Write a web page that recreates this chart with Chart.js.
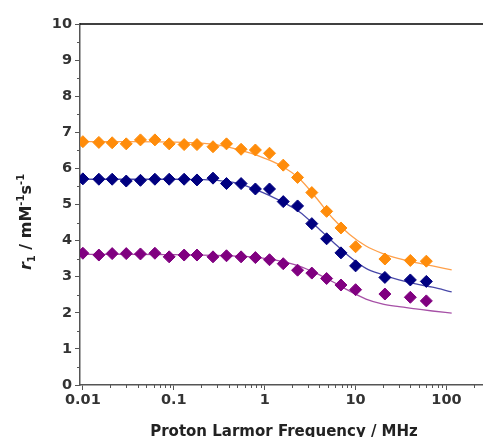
<!DOCTYPE html>
<html>
<head>
<meta charset="utf-8">
<script src="https://cdn.jsdelivr.net/npm/chart.js@4.4.0/dist/chart.umd.min.js"></script>
<style>
  html, body { margin: 0; padding: 0; background: #fff; overflow: hidden; }
  #wrap { width: 483px; height: 437px; }
  canvas { display: block; }
</style>
</head>
<body>
<div id="wrap"><canvas id="relaxivity-chart"></canvas></div>
<script>
// NMRD profiles - measured points (MHz), same field steps for all three samples
const freqs = [0.01, 0.015, 0.021, 0.03, 0.043, 0.062, 0.089, 0.13, 0.18, 0.27, 0.38, 0.55,
  0.79, 1.13, 1.6, 2.3, 3.3, 4.8, 6.9, 10, 21, 40, 60];
const r1Orange = [6.74, 6.72, 6.71, 6.68, 6.79, 6.79, 6.68, 6.66, 6.66, 6.60, 6.68, 6.53,
  6.51, 6.42, 6.09, 5.75, 5.33, 4.81, 4.35, 3.83, 3.49, 3.45, 3.43];
const r1Navy = [5.71, 5.70, 5.70, 5.65, 5.67, 5.70, 5.70, 5.70, 5.68, 5.73, 5.58, 5.58,
  5.43, 5.43, 5.08, 4.96, 4.47, 4.05, 3.66, 3.30, 2.98, 2.91, 2.87];
const r1Purple = [3.65, 3.60, 3.64, 3.64, 3.63, 3.65, 3.55, 3.60, 3.60, 3.55, 3.58, 3.55,
  3.53, 3.47, 3.36, 3.18, 3.10, 2.95, 2.77, 2.64, 2.52, 2.43, 2.33];

// fitted curves
const fitFreqs = [0.01, 0.03, 0.1, 0.2, 0.3, 0.5, 0.7, 1.0, 1.5, 2.4, 3.7, 5.6, 8.6, 13, 20, 30, 46, 70, 114];
const fitOrange = [6.74, 6.74, 6.73, 6.70, 6.65, 6.53, 6.42, 6.28, 6.08, 5.72, 5.18, 4.62, 4.17, 3.85, 3.64, 3.50, 3.39, 3.30, 3.19];
const fitNavy = [5.70, 5.70, 5.70, 5.69, 5.67, 5.59, 5.47, 5.31, 5.10, 4.80, 4.39, 3.97, 3.55, 3.23, 3.05, 2.91, 2.80, 2.71, 2.58];
const fitPurple = [3.62, 3.62, 3.61, 3.60, 3.59, 3.57, 3.55, 3.51, 3.43, 3.29, 3.09, 2.86, 2.60, 2.38, 2.24, 2.17, 2.11, 2.05, 1.99];

const xTickVals = [0.01, 0.1, 1, 10, 100];
const xTickLabels = ['0.01', '0.1', '1', '10', '100'];

const toPts = (xs, ys) => xs.map((x, i) => ({ x: x, y: ys[i] }));

const tickFont = { family: '"DejaVu Sans", sans-serif', size: 14.5, weight: 'bold' };
const axisGrey = '#555';

// top frame line, minor ticks and the two axis titles
const frameAndTitles = {
  id: 'frameAndTitles',
  afterDraw(chart) {
    const { ctx, chartArea, scales } = chart;
    const xs = scales.x, ys = scales.y;
    ctx.save();

    ctx.strokeStyle = '#000';
    ctx.lineWidth = 1.5;
    ctx.beginPath();
    ctx.moveTo(chartArea.left, chartArea.top);
    ctx.lineTo(chartArea.right, chartArea.top);
    ctx.stroke();

    ctx.strokeStyle = axisGrey;
    ctx.lineWidth = 1;
    ctx.beginPath();
    for (let d = 0.01; d < 1000; d *= 10) {
      for (let m = 2; m <= 9; m++) {
        const v = d * m;
        if (v > xs.max) break;
        const px = Math.round(xs.getPixelForValue(v)) + 0.5;
        ctx.moveTo(px, chartArea.bottom);
        ctx.lineTo(px, chartArea.bottom + 3);
      }
    }
    for (let v = 0.5; v < 10; v += 1) {
      const py = Math.round(ys.getPixelForValue(v)) + 0.5;
      ctx.moveTo(chartArea.left - 3, py);
      ctx.lineTo(chartArea.left, py);
    }
    ctx.stroke();

    // x title
    ctx.fillStyle = '#222';
    ctx.font = 'bold 15px "DejaVu Sans"';
    ctx.textAlign = 'center';
    ctx.textBaseline = 'alphabetic';
    ctx.fillText('Proton Larmor Frequency / MHz', 284, 436);

    // y title: r1 / mM-1s-1 with italic r, sub and superscripts
    const parts = [
      { t: 'r', f: 'italic bold 16px "DejaVu Sans"', dy: 0 },
      { t: '1', f: 'bold 10px "DejaVu Sans"', dy: 4 },
      { t: ' / mM', f: 'bold 16px "DejaVu Sans"', dy: 0 },
      { t: '-1', f: 'bold 10px "DejaVu Sans"', dy: -7 },
      { t: 's', f: 'bold 16px "DejaVu Sans"', dy: 0 },
      { t: '-1', f: 'bold 10px "DejaVu Sans"', dy: -7 }
    ];
    let total = 0;
    parts.forEach(p => { ctx.font = p.f; p.w = ctx.measureText(p.t).width; total += p.w; });
    ctx.translate(31, 222);
    ctx.rotate(-Math.PI / 2);
    ctx.textAlign = 'left';
    let cx = -total / 2;
    parts.forEach(p => {
      ctx.font = p.f;
      ctx.fillText(p.t, cx, p.dy);
      cx += p.w;
    });
    ctx.restore();
  }
};

const pointSet = (data, color) => ({
  type: 'scatter',
  data: data,
  order: 1,
  pointStyle: 'rectRot',
  pointRadius: 6,
  pointBorderWidth: 1,
  backgroundColor: color,
  borderColor: color,
  showLine: false
});

const fitSet = (data, color) => ({
  type: 'line',
  data: data,
  order: 2,
  borderColor: color,
  borderWidth: 1.3,
  pointRadius: 0,
  fill: false,
  cubicInterpolationMode: 'monotone'
});

new Chart(document.getElementById('relaxivity-chart'), {
  data: {
    datasets: [
      fitSet(toPts(fitFreqs, fitOrange), '#FFA04A'),
      fitSet(toPts(fitFreqs, fitNavy), '#4848A8'),
      fitSet(toPts(fitFreqs, fitPurple), '#A650A6'),
      pointSet(toPts(freqs, r1Orange), '#FF8C0A'),
      pointSet(toPts(freqs, r1Navy), '#000080'),
      pointSet(toPts(freqs, r1Purple), '#800080')
    ]
  },
  options: {
    responsive: true,
    maintainAspectRatio: false,
    animation: false,
    // the x axis runs off the right edge in the original, so no auto padding
    layout: { autoPadding: false, padding: { top: 24, right: 0, bottom: 0, left: 0 } },
    plugins: {
      legend: { display: false },
      tooltip: { enabled: false }
    },
    scales: {
      x: {
        type: 'logarithmic',
        min: 0.0093,
        max: 252,
        afterBuildTicks: (s) => { s.ticks = xTickVals.map(v => ({ value: v })); },
        afterFit: (s) => { s.height = 52; s.paddingLeft = 0; s.paddingRight = 0; },
        ticks: {
          autoSkip: false,
          maxRotation: 0,
          padding: 2,
          color: '#333',
          font: tickFont,
          callback: (v) => xTickLabels[xTickVals.indexOf(v)]
        },
        grid: { drawOnChartArea: false, tickLength: 5, tickColor: axisGrey, tickWidth: 1 },
        border: { color: axisGrey, width: 1.5 }
      },
      y: {
        min: 0,
        max: 10,
        afterFit: (s) => { s.width = 80; },
        ticks: { stepSize: 1, padding: 3, color: '#333', font: tickFont },
        grid: { drawOnChartArea: false, tickLength: 5, tickColor: axisGrey, tickWidth: 1 },
        border: { color: axisGrey, width: 1.5 }
      }
    }
  },
  plugins: [frameAndTitles]
});
</script>
</body>
</html>
